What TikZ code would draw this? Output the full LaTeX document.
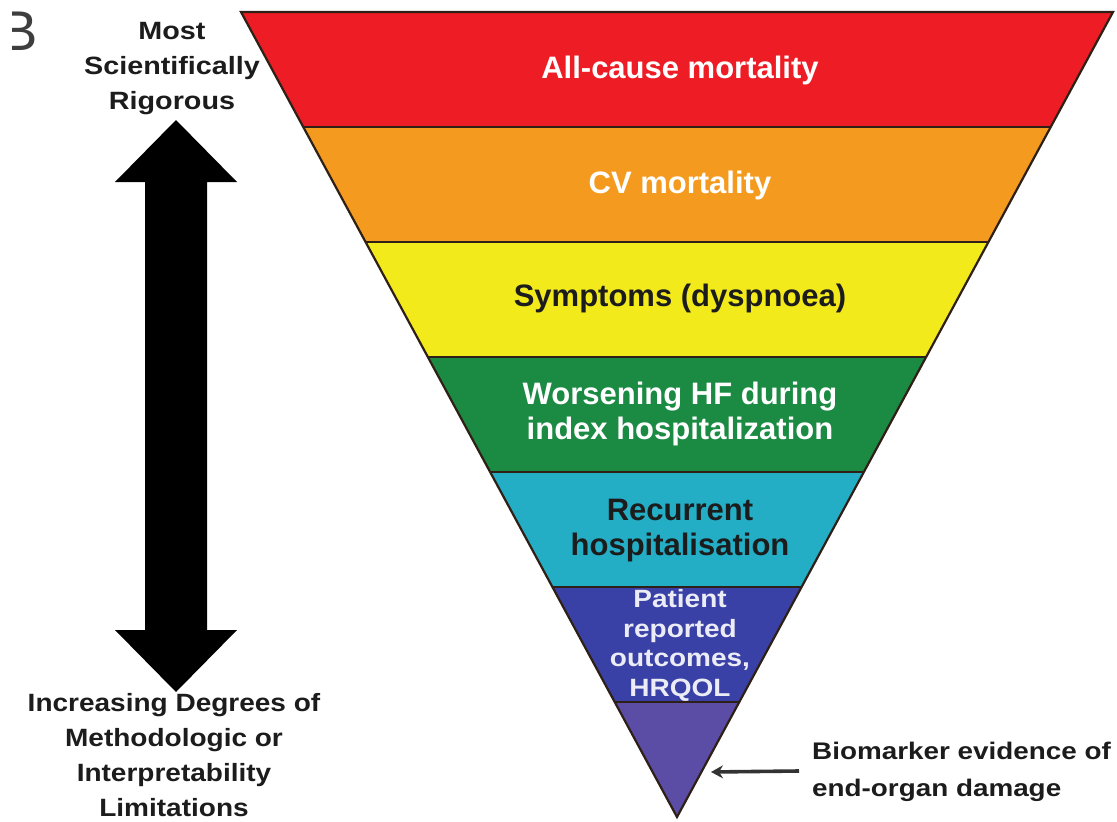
\documentclass[tikz,border=0pt]{standalone}
\usepackage{fontspec}
\setmainfont{Liberation Sans}
\usepackage{graphicx}
\usetikzlibrary{calc,arrows.meta}
\definecolor{cRed}{HTML}{EE1C25}
\definecolor{cOrange}{HTML}{F49B1F}
\definecolor{cYellow}{HTML}{F3EA1C}
\definecolor{cGreen}{HTML}{1B8A43}
\definecolor{cCyan}{HTML}{23AEC6}
\definecolor{cBlue}{HTML}{3A41A6}
\definecolor{cPurple}{HTML}{5B4CA6}
\definecolor{cEdge}{HTML}{2E2016}
\definecolor{cInk}{HTML}{1C1C1C}
\newcommand{\stx}[2]{\scalebox{#1}[1]{\begin{tabular}{@{}c@{}}#2\end{tabular}}}
\newcommand{\stl}[2]{\scalebox{#1}[1]{\begin{tabular}{@{}l@{}}#2\end{tabular}}}
\begin{document}
\begin{tikzpicture}[x=1pt,y=-1pt,
  bandtext/.style={inner sep=0pt, font=\bfseries\fontsize{31}{35}\selectfont, align=center},
  lighttext/.style={bandtext, text=white},
  darktext/.style={bandtext, text=cInk},
  sidetext/.style={inner sep=0pt, text=cInk, font=\bfseries\fontsize{25}{35}\selectfont},
  sep/.style={draw=cEdge, line width=2.4pt},
  outline/.style={draw=cEdge, line width=2.2pt, line join=miter},
  bigarrow/.style={fill=black},
  pointer/.style={draw=cInk!90, line width=3.6pt, -{Stealth[length=12pt,width=13pt]}}
]
\fill[white] (0,0) rectangle (1117,822);
\useasboundingbox (0,0) rectangle (1117,822);

% triangle geometry
\coordinate (L) at (241,12);
\coordinate (R) at (1113,12);
\coordinate (A) at (677,817);
\foreach \k in {0,...,7} {
  \coordinate (l\k) at ($(L)!\k/7!(A)$);
  \coordinate (r\k) at ($(R)!\k/7!(A)$);
}
\foreach \k/\c in {0/cRed,1/cOrange,2/cYellow,3/cGreen,4/cCyan,5/cBlue,6/cPurple} {
  \pgfmathtruncatemacro\n{\k+1}
  \fill[\c] (l\k) -- (r\k) -- (r\n) -- (l\n) -- cycle;
}
\foreach \k in {1,...,6} { \draw[sep] (l\k) -- (r\k); }
\draw[outline] (L) -- (R) -- (A) -- cycle;

% band labels
\node[lighttext] (t1) at (680,70) {All-cause mortality};
\node[lighttext] (t2) at (680,185) {CV mortality};
\node[darktext]  (t3) at (680,298) {Symptoms (dyspnoea)};
\node[lighttext] (t4) at (680,414) {Worsening HF during\\index hospitalization};
\node[darktext]  (t5) at (680,531) {\fontsize{31}{33}\selectfont Recurrent\\hospitalisation};
\node[inner sep=0pt, text=white!90!cBlue, font=\bfseries\fontsize{25}{29.5}\selectfont] (t6) at (680,646)
  {\stx{1.12}{Patient\\reported\\outcomes,\\HRQOL}};

% panel letter (cut at the left edge, as in the source)
\begin{scope}
  \clip (12,0) rectangle (60,60);
  \node[anchor=east, inner sep=0pt, text=cInk!85, font=\fontsize{56}{60}\selectfont] (B) at (38,31) {B};
\end{scope}

% left labels
\node[sidetext] (top) at (172,67) {\stx{1.15}{Most\\Scientifically\\Rigorous}};
\node[sidetext] (bot) at (174,757) {\stx{1.12}{Increasing Degrees of\\Methodologic or\\Interpretability\\Limitations}};

% double arrow
\fill[bigarrow] (176,120) -- (237,182) -- (207,182) -- (207,630) -- (237,630)
  -- (176,692) -- (115,630) -- (145,630) -- (145,182) -- (115,182) -- cycle;

% biomarker label and pointer
\node[inner sep=0pt, anchor=west, text=cInk, font=\bfseries\fontsize{24}{37}\selectfont] (bio) at (812,771)
  {\stl{1.16}{Biomarker evidence of\\end-organ damage}};
\coordinate (tip) at (711,772);
\draw[pointer] ([xshift=-13pt]bio.west) -- (tip);
\end{tikzpicture}
\end{document}
